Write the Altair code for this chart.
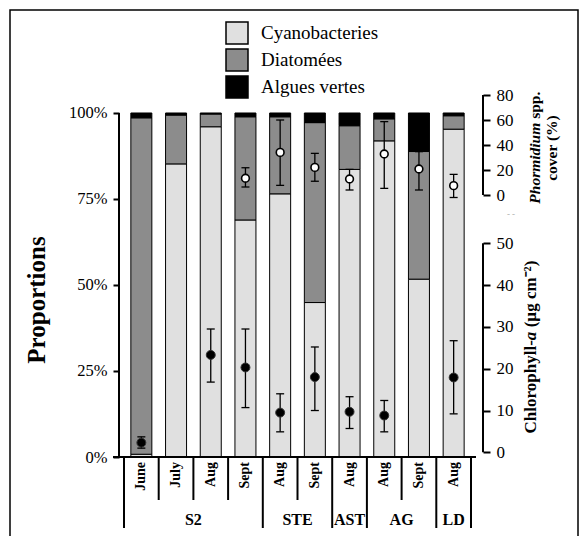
import altair as alt
import pandas as pd
import numpy as np

# ---------------- data ----------------
groups = ["S2", "S2", "S2", "S2", "STE", "STE", "AST", "AG", "AG", "LD"]
months = ["June", "July", "Aug", "Sept", "Aug", "Sept", "Aug", "Aug", "Sept", "Aug"]
classes = ["Cyanobacteries", "Diatomées", "Algues vertes"]
class_colors = ["#e0e0e0", "#8c8c8c", "#000000"]

cyano = [0.8, 85.2, 96.0, 68.9, 76.5, 44.9, 83.6, 91.9, 51.7, 95.3]
diatom = [97.8, 14.2, 3.7, 30.0, 22.4, 52.3, 12.7, 6.4, 37.1, 3.9]
algues = [1.4, 0.6, 0.3, 1.1, 1.1, 2.8, 3.7, 1.7, 11.2, 0.8]

phorm_mean = [None, None, None, 13.4, 34.1, 22.1, 12.8, 32.8, 20.8, 7.5]
phorm_lo = [None, None, None, 6.4, 7.7, 11.0, 4.0, 5.3, 4.0, -2.0]
phorm_hi = [None, None, None, 21.8, 60.0, 33.3, 20.5, 58.7, 34.7, 16.5]

chl_mean = [2.3, None, 23.3, 20.3, 9.5, 18.0, 9.7, 8.8, None, 17.9]
chl_lo = [1.0, None, 16.8, 10.7, 4.9, 10.0, 5.7, 4.9, None, 9.2]
chl_hi = [3.7, None, 29.5, 29.5, 14.0, 25.2, 13.3, 12.4, None, 26.7]

prop_ticks = [0, 25, 50, 75, 100]
phorm_ticks = [0, 20, 40, 60, 80]
chl_ticks = [0, 10, 20, 30, 40, 50]

group_names = ["S2", "STE", "AST", "AG", "LD"]

# ---------------- layout ----------------
W, H = 357, 362
PL, PT = 119, 95
FONT = "Liberation Serif"

idx = list(range(len(months)))

rows = []
for i in idx:
    for k, (c, vals) in enumerate(zip(classes, [cyano, diatom, algues])):
        rows.append({"idx": i, "cls": c, "order": k, "value": vals[i]})
bars = pd.DataFrame(rows)

xscale = alt.Scale(domain=[-0.5, len(months) - 0.5], nice=False, zero=False)
X = lambda f: alt.X(f, scale=xscale, axis=None)

prop_scale = alt.Scale(domain=[0, 105.23], nice=False)
prop_axis = alt.Axis(values=prop_ticks, labelExpr="datum.value + '%'", domain=False,
                     tickSize=6, tickWidth=2, tickColor="black", labelFont=FONT,
                     labelFontSize=16.5, labelColor="black", labelPadding=6,
                     title=None, grid=False, orient="left")

bar_layer = alt.Chart(bars).mark_bar(size=21, stroke="black", strokeWidth=1).encode(
    x=X("idx:Q"),
    y=alt.Y("value:Q", stack="zero", scale=prop_scale, axis=prop_axis),
    color=alt.Color("cls:N", scale=alt.Scale(domain=classes, range=class_colors),
                    legend=alt.Legend(orient="none", legendX=106, legendY=-74, title=None,
                                      symbolType="square", symbolSize=484,
                                      symbolStrokeColor="black", symbolStrokeWidth=1.5,
                                      labelFont=FONT, labelFontSize=19, labelColor="black",
                                      rowPadding=-1, labelOffset=12, padding=0)),
    order=alt.Order("order:Q"),
)

left_line = alt.Chart(pd.DataFrame({"value": [0], "value2": [100]})).mark_rule(
    color="black", strokeWidth=2).encode(
    x=alt.value(0),
    y=alt.Y("value:Q", scale=prop_scale, axis=prop_axis),
    y2="value2:Q",
)
bottom_line = alt.Chart(pd.DataFrame({"value": [0]})).mark_rule(
    color="black", strokeWidth=2).encode(
    x=alt.value(-6), x2=alt.value(W),
    y=alt.Y("value:Q", scale=prop_scale, axis=prop_axis),
)
prop_layer = alt.layer(bar_layer, left_line, bottom_line)

# ---- Phormidium ----
ph = pd.DataFrame({"idx": idx, "mean": phorm_mean, "lo": phorm_lo, "hi": phorm_hi}).dropna()
ph_caps = pd.concat([ph[["idx", "lo"]].rename(columns={"lo": "v"}),
                     ph[["idx", "hi"]].rename(columns={"hi": "v"})])
ph_scale = alt.Scale(domain=[-209.6, 80], nice=False, zero=False)
ph_axis = alt.Axis(values=phorm_ticks, domain=False, tickSize=7, tickWidth=2,
                   tickColor="black", labelFont=FONT, labelFontSize=17, labelColor="black",
                   labelPadding=6, title=None, grid=False, orient="right", offset=7)
ph_err = alt.Chart(ph).mark_rule(color="black", strokeWidth=1.3).encode(
    x=X("idx:Q"), y=alt.Y("lo:Q", scale=ph_scale, axis=ph_axis), y2="hi:Q")
ph_cap = alt.Chart(ph_caps).mark_point(shape="M-1,0L1,0", size=64, filled=False,
                                       color="black", strokeWidth=1.3, opacity=1).encode(
    x=X("idx:Q"), y=alt.Y("v:Q", scale=ph_scale, axis=ph_axis))
ph_pt = alt.Chart(ph).mark_point(shape="circle", size=60, filled=True, fill="white",
                                 stroke="black", strokeWidth=1.6, opacity=1).encode(
    x=X("idx:Q"), y=alt.Y("mean:Q", scale=ph_scale, axis=ph_axis))
ph_line = alt.Chart(pd.DataFrame({"lo": [0], "hi": [80]})).mark_rule(
    color="black", strokeWidth=2).encode(
    x=alt.value(W + 7), y=alt.Y("lo:Q", scale=ph_scale, axis=ph_axis), y2="hi:Q")
ph_layer = alt.layer(ph_err, ph_cap, ph_pt, ph_line)

# ---- Chlorophyll ----
ch = pd.DataFrame({"idx": idx, "mean": chl_mean, "lo": chl_lo, "hi": chl_hi}).dropna()
ch_caps = pd.concat([ch[["idx", "lo"]].rename(columns={"lo": "v"}),
                     ch[["idx", "hi"]].rename(columns={"hi": "v"})])
ch_scale = alt.Scale(domain=[-1.12, 85.48], nice=False, zero=False)
ch_axis = alt.Axis(values=chl_ticks, domain=False, tickSize=7, tickWidth=2,
                   tickColor="black", labelFont=FONT, labelFontSize=17, labelColor="black",
                   labelPadding=6, title=None, grid=False, orient="right", offset=7)
ch_err = alt.Chart(ch).mark_rule(color="black", strokeWidth=1.3).encode(
    x=X("idx:Q"), y=alt.Y("lo:Q", scale=ch_scale, axis=ch_axis), y2="hi:Q")
ch_cap = alt.Chart(ch_caps).mark_point(shape="M-1,0L1,0", size=64, filled=False,
                                       color="black", strokeWidth=1.3, opacity=1).encode(
    x=X("idx:Q"), y=alt.Y("v:Q", scale=ch_scale, axis=ch_axis))
ch_pt = alt.Chart(ch).mark_point(shape="circle", size=80, filled=True, fill="black",
                                 stroke="#333", strokeWidth=1, opacity=1).encode(
    x=X("idx:Q"), y=alt.Y("mean:Q", scale=ch_scale, axis=ch_axis))
ch_line = alt.Chart(pd.DataFrame({"lo": [0], "hi": [50]})).mark_rule(
    color="black", strokeWidth=2).encode(
    x=alt.value(W + 7), y=alt.Y("lo:Q", scale=ch_scale, axis=ch_axis), y2="hi:Q")
ch_layer = alt.layer(ch_err, ch_cap, ch_pt, ch_line)

# ---- x-axis categories ----
month_df = pd.DataFrame({"idx": idx, "month": months})
month_text = alt.Chart(month_df).mark_text(angle=270, align="right", baseline="middle",
                                           font=FONT, fontSize=14, fontWeight="bold",
                                           color="black").encode(
    x=X("idx:Q"), y=alt.value(H + 5), text="month:N")

gstart = {}
gend = {}
for i, g in enumerate(groups):
    gstart.setdefault(g, i)
    gend[g] = i
group_df = pd.DataFrame({"g": group_names,
                         "center": [(gstart[g] + gend[g]) / 2 for g in group_names]})
group_text = alt.Chart(group_df).mark_text(align="center", baseline="middle", font=FONT,
                                           fontSize=16, fontWeight="bold",
                                           color="black").encode(
    x=X("center:Q"), y=alt.value(H + 63), text="g:N")

month_sep = pd.DataFrame({"s": [i - 0.5 for i in range(len(months) + 1)]})
group_sep = pd.DataFrame({"s": [gstart[g] - 0.5 for g in group_names] + [len(months) - 0.5]})
msep = alt.Chart(month_sep).mark_rule(color="black", strokeWidth=2).encode(
    x=X("s:Q"), y=alt.value(H), y2=alt.value(H + 43))
gsep = alt.Chart(group_sep).mark_rule(color="black", strokeWidth=2).encode(
    x=X("s:Q"), y=alt.value(H + 43), y2=alt.value(H + 71))

# ---- titles ----
one = pd.DataFrame({"a": [0]})


def label(text, x, y, size, weight="bold", style="normal", align="center", angle=270,
          color="black"):
    return alt.Chart(one).mark_text(text=text, angle=angle, align=align, baseline="middle",
                                    font=FONT, fontSize=size, fontWeight=weight,
                                    fontStyle=style, color=color).encode(
        x=alt.value(x - PL), y=alt.value(y - PT))


titles = [
    label("Proportions", 37, 300, 25),
    label("Phormidium", 535, 122.7, 15.5, style="italic", align="right"),
    label("spp.", 535, 118.8, 15.5, align="left"),
    label("cover (%)", 552, 148, 15.5),
    label("Chlorophyll-", 531, 340.2, 17, align="right"),
    label("a", 531, 340.2, 17, style="italic", align="left"),
    label("(µg cm⁻²)", 531, 327.3, 17, align="left"),
    label("- -", 511, 214, 9, weight="normal", angle=0, color="#aaaaaa"),
]

frame = alt.Chart(one).mark_rect(fill=None, stroke="black", strokeWidth=1.5).encode(
    x=alt.value(10 - PL), x2=alt.value(578 - PL), y=alt.value(10 - PT), y2=alt.value(545 - PT))

chart = alt.layer(prop_layer, ph_layer, ch_layer, msep, gsep, month_text, group_text,
                  frame, *titles).resolve_scale(y="independent").properties(
    width=W, height=H,
    padding={"left": PL, "top": PT, "right": 587 - PL - W, "bottom": 536 - PT - H},
    autosize=alt.AutoSizeParams(type="none"),
    background="white",
).configure_view(stroke=None).configure_legend(
    labelFont=FONT, labelFontSize=19, labelColor="black"
).configure_axis(labelFont=FONT).configure_text(font=FONT)

chart.save("out.html", embed_options={"renderer": "svg", "actions": False})
